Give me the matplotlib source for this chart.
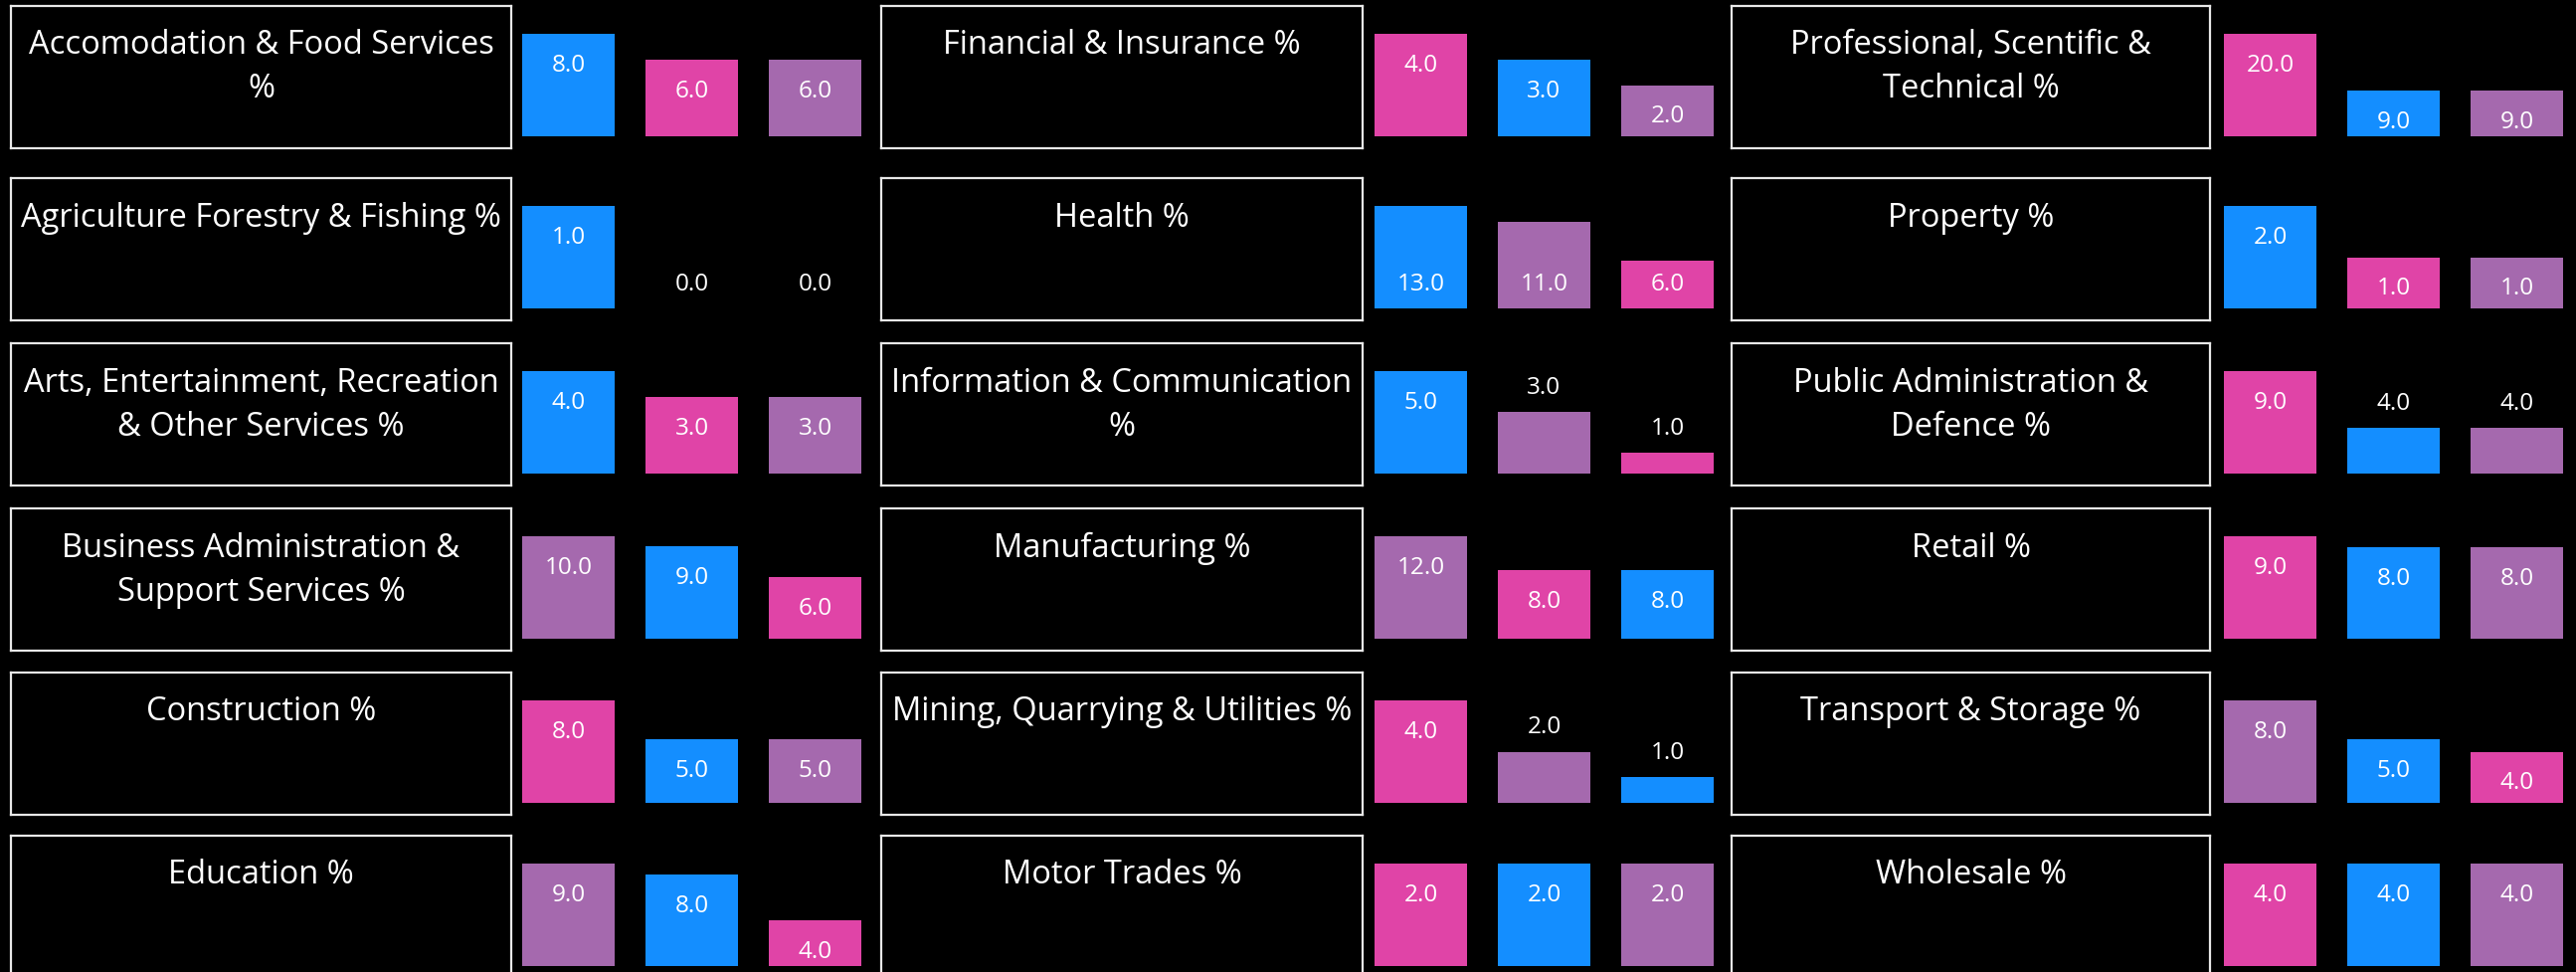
import matplotlib.pyplot as plt

# sector panels, read column by column
titles = [
    "Accomodation & Food Services\n%",
    "Agriculture Forestry & Fishing %",
    "Arts, Entertainment, Recreation\n& Other Services %",
    "Business Administration &\nSupport Services %",
    "Construction %",
    "Education %",
    "Financial & Insurance %",
    "Health %",
    "Information & Communication\n%",
    "Manufacturing %",
    "Mining, Quarrying & Utilities %",
    "Motor Trades %",
    "Professional, Scentific &\nTechnical %",
    "Property %",
    "Public Administration &\nDefence %",
    "Retail %",
    "Transport & Storage %",
    "Wholesale %",
]

values = [
    [8, 6, 6], [1, 0, 0], [4, 3, 3], [10, 9, 6], [8, 5, 5], [9, 8, 4],
    [4, 3, 2], [13, 11, 6], [5, 3, 1], [12, 8, 8], [4, 2, 1], [2, 2, 2],
    [20, 9, 9], [2, 1, 1], [9, 4, 4], [9, 8, 8], [8, 5, 4], [4, 4, 4],
]

series = [
    ["B", "P", "V"], ["B", "P", "V"], ["B", "P", "V"], ["V", "B", "P"],
    ["P", "B", "V"], ["V", "B", "P"],
    ["P", "B", "V"], ["B", "V", "P"], ["B", "V", "P"], ["V", "P", "B"],
    ["P", "V", "B"], ["P", "B", "V"],
    ["P", "B", "V"], ["B", "P", "V"], ["P", "B", "V"], ["P", "B", "V"],
    ["V", "B", "P"], ["P", "B", "V"],
]

# where each data label sits: in = inside end, out = outside end, base = inside base
label_pos = [
    ["in"] * 3, ["in", "out", "out"], ["in"] * 3, ["in"] * 3, ["in"] * 3, ["in"] * 3,
    ["in"] * 3, ["base"] * 3, ["in", "out", "out"], ["in"] * 3, ["in", "out", "out"], ["in"] * 3,
    ["in"] * 3, ["in"] * 3, ["in", "out", "out"], ["in"] * 3, ["in"] * 3, ["in"] * 3,
]

colors = {"B": "#148EFF", "P": "#E044A7", "V": "#A569AE"}

W, H = 2590, 977
box_left = [11, 886, 1741]
box_right = [514, 1370, 2222]
bar_left = [525, 1382, 2236]
group_w = 341
row_top = [6, 179, 345, 511, 676, 840]
box_h = 143

plt.rcParams["font.family"] = ["Open Sans", "DejaVu Sans"]

fig = plt.figure(figsize=(W / 100, H / 100), dpi=100, facecolor="black")


def rect(x, y, w, h):
    return [x / W, 1 - (y + h) / H, w / W, h / H]


for i in range(len(titles)):
    c, r = divmod(i, 6)

    # title box
    bx = fig.add_axes(rect(box_left[c], row_top[r], box_right[c] - box_left[c], box_h))
    bx.set_facecolor("black")
    bx.set_xticks([])
    bx.set_yticks([])
    for s in bx.spines.values():
        s.set_color("#E8E8E8")
        s.set_linewidth(1.6)
    for k, line in enumerate(titles[i].split("\n")):
        bx.text(0.5, 1 - (40 + 44 * k) / box_h, line, color="white", fontsize=23.5,
                ha="center", va="center", transform=bx.transAxes)

    # bars
    ax = fig.add_axes(rect(bar_left[c], row_top[r] + 28, group_w, 103))
    ax.set_facecolor("black")
    ax.axis("off")
    vals = values[i]
    cols = [colors[s] for s in series[i]]
    ax.bar(range(3), vals, width=0.75, color=cols)
    ax.set_xlim(-0.375, 2.375)
    ax.set_ylim(0, max(vals))
    for j, v in enumerate(vals):
        p = label_pos[i][j]
        if p == "in":
            y, off = v, -23
        elif p == "out":
            y, off = v, 17.5
        else:
            y, off = 0, 17.5
        ax.annotate(f"{v:.1f}", (j, y), xytext=(0, off), textcoords="offset points",
                    ha="center", va="center", color="white", fontsize=17.5,
                    annotation_clip=False)

fig.savefig("out.png", dpi=100, facecolor="black")
